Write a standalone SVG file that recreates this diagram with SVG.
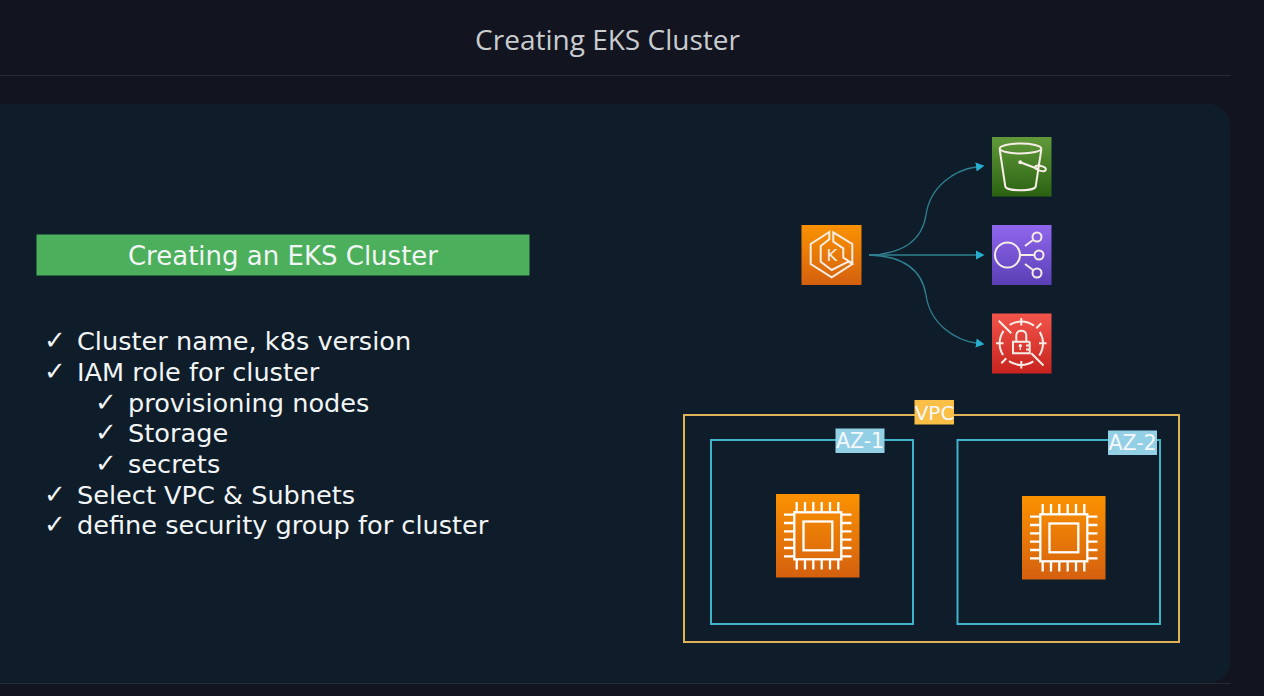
<svg xmlns="http://www.w3.org/2000/svg" width="1264" height="696" viewBox="0 0 1264 696">
<style>
.t{font-family:"DejaVu Sans",sans-serif;fill:#f2f5f5;font-size:25.6px}
.h{font-family:"DejaVu Sans",sans-serif;fill:#f2f5f5;font-size:26px;text-anchor:middle}
.ck{font-family:"DejaVu Sans",sans-serif;fill:#f2f5f5;font-size:26px}
.ic{fill:none;stroke:#f6eee6;stroke-width:2;stroke-linejoin:miter}
.chip{fill:none;stroke:#fff;stroke-width:2.300}
.lb{font-family:"DejaVu Sans",sans-serif;fill:#f4f8fa;text-anchor:middle}
.az{fill:none;stroke:#3fb4c9;stroke-width:2}
.cn{fill:none;stroke:#2f8091;stroke-width:1.300}
</style>
<defs>
<linearGradient id="or" x1="0" y1="0" x2="0" y2="1"><stop offset="0" stop-color="#fb9200"/><stop offset="1" stop-color="#d4600f"/></linearGradient>
<linearGradient id="gr" x1="0" y1="0" x2="0" y2="1"><stop offset="0" stop-color="#61993a"/><stop offset="1" stop-color="#2b6212"/></linearGradient>
<linearGradient id="pu" x1="0" y1="0" x2="0" y2="1"><stop offset="0" stop-color="#9067ee"/><stop offset="1" stop-color="#5a3fb5"/></linearGradient>
<linearGradient id="re" x1="0" y1="0" x2="0" y2="1"><stop offset="0" stop-color="#f2544a"/><stop offset="1" stop-color="#c8231f"/></linearGradient>
<marker id="ar" markerUnits="userSpaceOnUse" markerWidth="10" markerHeight="10" refX="0" refY="5" orient="auto"><path d="M0 .4L8.500 5L0 9.600Z" fill="#27aed0"/></marker>
<g id="chipglyph">
<rect class="chip" x="18.300" y="18.300" width="47" height="47"/>
<rect class="chip" x="27.500" y="27.500" width="28.800" height="28.800"/>
<path class="chip" d="M20.700 8v10M29 8v10M37.300 8v10M45.700 8v10M54 8v10M62.300 8v10M20.700 65.500v10M29 65.500v10M37.300 65.500v10M45.700 65.500v10M54 65.500v10M62.300 65.500v10M8 20.700h10M8 29h10M8 37.300h10M8 45.700h10M8 54h10M8 62.300h10M65.500 20.700h10M65.500 29h10M65.500 37.300h10M65.500 45.700h10M65.500 54h10M65.500 62.300h10"/>
</g>
</defs>

<rect width="1264" height="696" fill="#12151f"/>
<rect x="-30" y="104" width="1260.500" height="579" rx="22" fill="#0f1d2a"/>
<rect x="0" y="75" width="1231" height="1" fill="#262a33"/>
<rect x="0" y="683" width="1231" height="1" fill="#262a33"/>

<text id="title" x="607.500" y="50" text-anchor="middle" style="font-family:'Open Sans',sans-serif;font-size:28px;fill:#c9ccd0">Creating EKS Cluster</text>

<g id="heading">
<rect x="36.500" y="234.500" width="493" height="41" fill="#4caf5b"/>
<text class="h" x="283" y="265">Creating an EKS Cluster</text>
</g>

<g id="checklist">
<text class="ck" x="44" y="349">✓</text><text class="t" x="77" y="350">Cluster name, k8s version</text>
<text class="ck" x="44" y="380">✓</text><text class="t" x="77" y="380.500">IAM role for cluster</text>
<text class="ck" x="95" y="411">✓</text><text class="t" x="128" y="411.500">provisioning nodes</text>
<text class="ck" x="95" y="441">✓</text><text class="t" x="128" y="441.500">Storage</text>
<text class="ck" x="95" y="472">✓</text><text class="t" x="128" y="472.500">secrets</text>
<text class="ck" x="44" y="503">✓</text><text class="t" x="77" y="503.500">Select VPC &amp; Subnets</text>
<text class="ck" x="44" y="533">✓</text><text class="t" x="77" y="534">define security group for cluster</text>
</g>

<g id="connectors">
<path class="cn" marker-end="url(#ar)" d="M869 255C903 254 922 240 926 215C930 186 955 170 976 167"/>
<path class="cn" marker-end="url(#ar)" d="M869 255H976"/>
<path class="cn" marker-end="url(#ar)" d="M869 255C903 256 922 270 926 295C930 324 955 340 976 343"/>
</g>

<g id="eks">
<rect x="801.500" y="225" width="60" height="60" fill="url(#or)"/>
<path class="ic" d="M829.300 232V239.300L820.700 246V261.700L831.700 270L848.300 261.700L852.300 264L831.700 277.300L810.700 264V244Z"/>
<path class="ic" d="M833.300 232.300L852.300 244V263.300L843.300 257.700V248.300L833.300 241.700Z"/>
<text x="832" y="261" text-anchor="middle" style="font-family:'DejaVu Sans',sans-serif;font-size:16.500px;fill:#f6eee6">K</text>
</g>

<g id="s3">
<rect x="992" y="137" width="59.500" height="59.500" fill="url(#gr)"/>
<ellipse class="ic" cx="1020.500" cy="148.500" rx="20.800" ry="5"/>
<path class="ic" d="M999.700 149.500L1005.300 186.500C1006 191.500 1035 191.500 1035.700 186.500L1041.300 149.500"/>
<path class="ic" d="M1020.300 162.300L1038 169"/>
<ellipse class="ic" cx="1040.500" cy="168.300" rx="5.500" ry="2.400" transform="rotate(15 1040.500 168.300)"/>
<circle cx="1020.300" cy="162.300" r="2" fill="#f6eee6"/>
</g>

<g id="sns">
<rect x="992" y="225" width="59.500" height="60" fill="url(#pu)"/>
<circle class="ic" cx="1007.500" cy="255" r="12.500"/>
<circle class="ic" cx="1037" cy="237" r="4.500"/>
<circle class="ic" cx="1039" cy="255" r="4.500"/>
<circle class="ic" cx="1037" cy="273" r="4.500"/>
<path class="ic" d="M1025 246L1033 240M1020 255H1034.500M1025 264L1033 270"/>
</g>

<g id="kms">
<rect x="992" y="313.500" width="59.500" height="60" fill="url(#re)"/>
<circle class="ic" cx="1021.300" cy="343.300" r="21.700" stroke-dasharray="25.700 8.380" stroke-dashoffset="12.850"/>
<path class="ic" d="M998.700 320.700L1011.300 333.300M1043.500 365.500L1031.300 353.300M1041.300 323.300L1036.300 328.300M1001.300 363.300L1006.300 358.300M1021.300 318V325.500M1021.300 361V368.500M996 343.300H1003.500M1039 343.300H1046.500"/>
<path class="ic" d="M1029.700 341.700H1013V353.300H1029.700V349.500H1026M1029.700 349.500V345.500H1026M1029.700 345.500V341.700"/>
<path class="ic" d="M1016.300 341.700V335.500C1016.300 329 1026.300 329 1026.300 335.500V341.700"/>
<circle cx="1020.300" cy="345.700" r="1.700" fill="#f6eee6"/>
<path class="ic" d="M1020.300 346V350" style="stroke-width:1.300"/>
</g>

<g id="vpc">
<rect x="684" y="415" width="495" height="227" fill="none" stroke="#e0b256" stroke-width="2"/>
<rect x="914.500" y="400" width="39.500" height="24.500" fill="#fabf47"/>
<text class="lb" x="934.500" y="420" font-size="20">VPC</text>
</g>

<g id="az1">
<rect class="az" x="711" y="440" width="202" height="184"/>
<rect x="835.500" y="428.500" width="49" height="24.500" fill="#93d0e6"/>
<text class="lb" x="860" y="448" font-size="20.500">AZ-1</text>
</g>

<g id="az2">
<rect class="az" x="957.500" y="440" width="202.500" height="184"/>
<rect x="1108" y="430.500" width="49" height="24.500" fill="#93d0e6"/>
<text class="lb" x="1132.500" y="450" font-size="20.500">AZ-2</text>
</g>

<g id="ec2-1" transform="translate(776 494)">
<rect width="83.500" height="83.500" fill="url(#or)"/>
<use href="#chipglyph"/>
</g>

<g id="ec2-2" transform="translate(1022 496)">
<rect width="83.500" height="83.500" fill="url(#or)"/>
<use href="#chipglyph"/>
</g>
</svg>
